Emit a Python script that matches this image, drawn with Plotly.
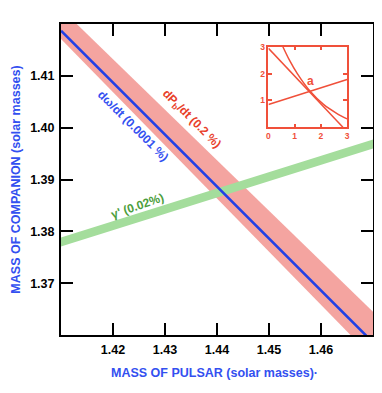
import plotly.graph_objects as go

# Mass-mass diagram values (solar masses)
x_ends = [1.41, 1.47]
# dPb/dt band (upper and lower edges)
pbdot_upper = [1.42295, 1.36449]
pbdot_lower = [1.41711, 1.35556]
# d(omega)/dt line
omdot_x = [1.41, 1.4687]
omdot_y = [1.41871, 1.35986]
# gamma band centre and half width
gamma_y = [1.37794, 1.39685]
gamma_half = 0.00085

x_ticks = [1.42, 1.43, 1.44, 1.45, 1.46]
x_ticklabels = ["1.42", "1.43", "1.44", "1.45", "1.46"]
y_ticks = [1.37, 1.38, 1.39, 1.40, 1.41]
y_ticklabels = ["1.37", "1.38", "1.39", "1.40", "1.41"]

# Inset curves
inset_fall_x = [0.0, 2.84]
inset_fall_y = [2.94, 0.0]
inset_curve_x = [0.55, 0.8, 1.1, 1.6, 2.1, 2.6, 3.0]
inset_curve_y = [3.0, 2.5, 2.0, 1.33, 0.85, 0.52, 0.31]
inset_rise_x = [0.0, 3.0]
inset_rise_y = [0.85, 1.78]

PINK = "#f4a4a0"
BLUE = "#2040e6"
GREEN = "#a4dd9c"
RED = "#f0503a"
FONT = "Liberation Sans, Arial, sans-serif"

fig = go.Figure()

# Red band for dPb/dt
fig.add_trace(
    go.Scatter(
        x=x_ends + x_ends[::-1],
        y=pbdot_upper + pbdot_lower[::-1],
        fill="toself",
        fillcolor=PINK,
        line=dict(width=0),
        mode="lines",
        hoverinfo="skip",
    )
)

# Green band for gamma
fig.add_trace(
    go.Scatter(
        x=x_ends + x_ends[::-1],
        y=[v + gamma_half for v in gamma_y] + [v - gamma_half for v in gamma_y[::-1]],
        fill="toself",
        fillcolor=GREEN,
        line=dict(width=0),
        mode="lines",
        hoverinfo="skip",
    )
)

# Blue omega-dot line
fig.add_trace(
    go.Scatter(x=omdot_x, y=omdot_y, mode="lines", line=dict(color=BLUE, width=2.5))
)

# Inset curves
for xs, ys, shape in [
    (inset_fall_x, inset_fall_y, "linear"),
    (inset_curve_x, inset_curve_y, "spline"),
    (inset_rise_x, inset_rise_y, "linear"),
]:
    fig.add_trace(
        go.Scatter(
            x=xs,
            y=ys,
            mode="lines",
            line=dict(color=RED, width=1.5, shape=shape),
            xaxis="x2",
            yaxis="y2",
        )
    )

main_axis = dict(
    showline=True,
    linecolor="black",
    linewidth=2,
    mirror="ticks",
    ticks="inside",
    ticklen=12,
    tickwidth=2,
    tickcolor="black",
    showgrid=False,
    zeroline=False,
    automargin=False,
    tickfont=dict(family=FONT, size=12.5, color="black", weight="bold"),
)

inset_axis = dict(
    range=[0, 3],
    showline=True,
    linecolor=RED,
    linewidth=1.5,
    mirror="ticks",
    ticks="inside",
    ticklen=4,
    tickwidth=1.5,
    tickcolor=RED,
    showgrid=False,
    zeroline=False,
    automargin=False,
    tickfont=dict(family=FONT, size=8.5, color=RED, weight="bold"),
)

# The page body keeps its 8px margin, so the figure is sized to sit inside it
fig.update_layout(
    template="none",
    width=366,
    height=377,
    margin=dict(l=53, r=1, t=16, b=50),
    plot_bgcolor="white",
    paper_bgcolor="white",
    showlegend=False,
    xaxis=dict(main_axis, range=[1.41, 1.47], tickvals=x_ticks, ticktext=x_ticklabels,
               ticklabelstandoff=2),
    yaxis=dict(main_axis, range=[1.36, 1.42], tickvals=y_ticks, ticktext=y_ticklabels,
               ticklabelstandoff=2),
    xaxis2=dict(inset_axis, domain=[0.665, 0.917], anchor="y2",
                tickvals=[0, 1, 2, 3], ticktext=["0", "1", "2", "3"]),
    yaxis2=dict(inset_axis, domain=[0.668, 0.927], anchor="x2",
                tickvals=[1, 2, 3], ticktext=["1", "2", "3"]),
)

# Line labels
labels = [
    ("d\u03c9/dt (0.0001 %)", 1.4239, 1.4003, 45, "#3350f0"),
    ("dP<sub>b</sub>/dt (0.2 %)", 1.4350, 1.4017, 45, "#e8402a"),
    ("\u03b3' (0.02%)", 1.4247, 1.3849, -19, "#4c9e3c"),
]
for text, x, y, ang, col in labels:
    fig.add_annotation(
        x=x,
        y=y,
        text=text,
        textangle=ang,
        showarrow=False,
        font=dict(family=FONT, size=12, color=col, weight="bold"),
    )

# Inset label
fig.add_annotation(
    x=1.62, y=1.74, xref="x2", yref="y2", text="a", showarrow=False,
    font=dict(family=FONT, size=12, color=RED, weight="bold"),
)

# Axis titles
fig.add_annotation(
    x=0.491, y=-0.122, xref="paper", yref="paper",
    xanchor="center", yanchor="middle",
    text="MASS OF PULSAR (solar masses)\u00b7", showarrow=False,
    font=dict(family=FONT, size=12.5, color="#3350f0", weight="bold"),
)
fig.add_annotation(
    x=-0.147, y=0.5, xref="paper", yref="paper", textangle=-90,
    xanchor="center", yanchor="middle",
    text="MASS OF COMPANION (solar masses)", showarrow=False,
    font=dict(family=FONT, size=12.5, color="#3350f0", weight="bold"),
)

fig.write_html("out.html")
